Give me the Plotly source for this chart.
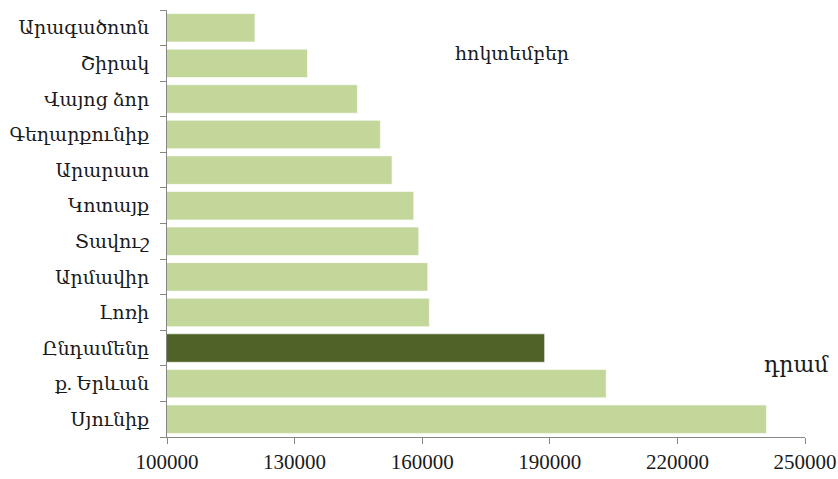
import plotly.graph_objects as go

# regions, top to bottom as shown in the chart
regions = ["Արագածոտն", "Շիրակ", "Վայոց ձոր", "Գեղարքունիք", "Արարատ", "Կոտայք",
           "Տավուշ", "Արմավիր", "Լոռի", "Ընդամենը", "ք. Երևան", "Սյունիք"]
salary = [120670, 133030, 144770, 150170, 152920, 158020,
          159190, 161310, 161680, 188790, 203260, 240930]
x_ticks = [100000, 130000, 160000, 190000, 220000, 250000]

month_label = "հոկտեմբեր"
unit_label = "դրամ"

light_green = "#C4D79B"
dark_green = "#4F6228"
axis_grey = "#868686"
font_family = "Liberation Serif, DejaVu Serif, serif"

colors = [dark_green if r == "Ընդամենը" else light_green for r in regions]

fig = go.Figure()
fig.add_trace(go.Bar(
    x=salary, y=regions, orientation="h",
    base=0,
    marker=dict(color=colors, line=dict(color="rgba(255,255,255,0.6)", width=1)),
))

fig.update_layout(
    width=838, height=479,
    margin=dict(l=167, r=33, t=10, b=42),
    plot_bgcolor="white", paper_bgcolor="white",
    font=dict(family=font_family, size=18, color="#1a1a1a"),
    bargap=0.2,
    showlegend=False,
)

fig.update_xaxes(
    range=[100000, 250000],
    tickvals=x_ticks, ticktext=[str(v) for v in x_ticks],
    showgrid=False, zeroline=False,
    showline=True, linecolor=axis_grey, linewidth=1,
    ticks="outside", ticklen=6, tickcolor=axis_grey,
    tickfont=dict(size=21),
    automargin=False,
)
fig.update_yaxes(
    categoryorder="array", categoryarray=regions[::-1],
    showgrid=False, zeroline=False,
    showline=True, linecolor=axis_grey, linewidth=1,
    ticks="outside", ticklen=6, tickcolor=axis_grey,
    tickson="boundaries",
    ticklabelstandoff=13,
    tickfont=dict(size=19),
    automargin=False,
)

fig.add_annotation(text=month_label, xref="paper", yref="paper",
                   x=0.541, y=0.897, xanchor="center", yanchor="middle",
                   showarrow=False, font=dict(size=19))
fig.add_annotation(text=unit_label, xref="paper", yref="paper",
                   x=0.987, y=0.169, xanchor="center", yanchor="middle",
                   showarrow=False, font=dict(size=22))

# drop the default body margin so the figure sits at the window's corner
fig.write_html("out.html", config={"displayModeBar": False},
               post_script="document.body.style.margin='0';")
